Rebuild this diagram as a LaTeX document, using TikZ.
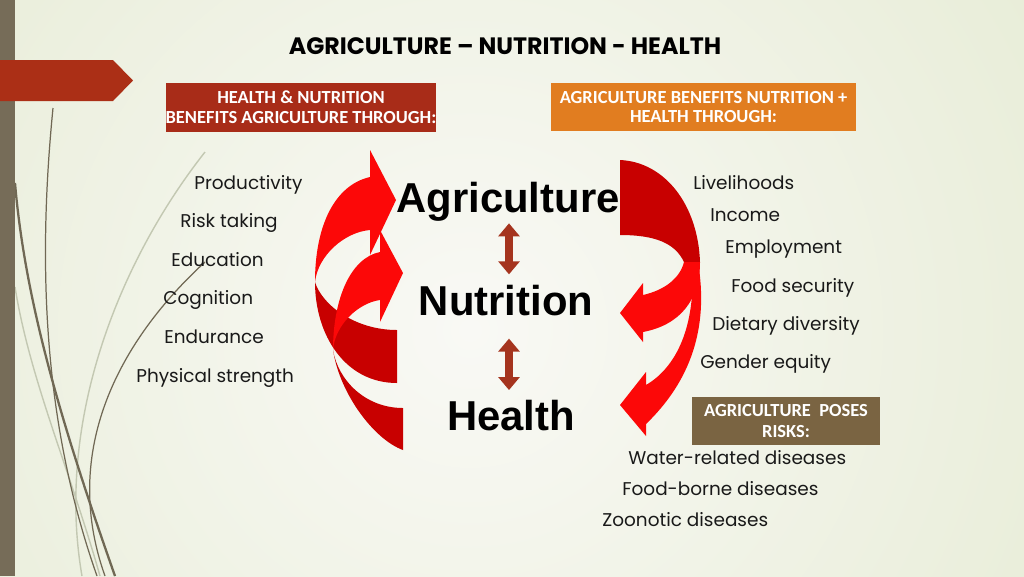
\documentclass[tikz,border=0pt]{standalone}
\usepackage{fontspec}
\setmainfont{Poppins}
\newfontfamily\boxfont{Carlito}
\newfontfamily\bigfont{Liberation Sans}
\usepackage{tikz}
\usetikzlibrary{arrows.meta}
\definecolor{bgin}{RGB}{249,249,245}
\definecolor{bgout}{RGB}{221,229,197}
\definecolor{barbrown}{RGB}{118,108,88}
\definecolor{tabred}{RGB}{171,47,22}
\definecolor{hnred}{RGB}{168,44,24}
\definecolor{agorange}{RGB}{225,125,32}
\definecolor{riskbrown}{RGB}{122,100,66}
\definecolor{arrowdark}{RGB}{200,0,0}
\definecolor{arrowlight}{RGB}{252,8,8}
\definecolor{linkred}{RGB}{165,52,30}
\definecolor{swirldark}{RGB}{112,104,84}
\definecolor{swirllight}{RGB}{195,200,178}
\definecolor{txtgray}{RGB}{25,25,25}

\begin{document}
\begin{tikzpicture}[x=0.02cm, y=-0.02cm,
  listtext/.style={anchor=base west, inner sep=0, text=txtgray, font=\fontsize{10.5pt}{12pt}\selectfont},
  bigword/.style={anchor=base, inner sep=0, text=black, font=\bigfont\bfseries\fontsize{23.8pt}{26pt}\selectfont},
  headbox/.style={inner sep=0, align=center, text=white, font=\boxfont\bfseries\fontsize{10.5pt}{11.3pt}\selectfont},
  linkarrow/.style={draw=linkred, line width=4.5pt, {Triangle[width=11.9pt,length=7.4pt]}-{Triangle[width=11.9pt,length=7.4pt]}}]
\useasboundingbox (0,0) rectangle (1024,576);
\clip (0,0) rectangle (1024,576);
\shade[inner color=bgin, outer color=bgout] (470,330) circle (1100);
\draw[swirllight, line width=0.8pt] (15,287) .. controls (30,380) and (70,470) .. (100,576);
\draw[swirllight, line width=0.8pt] (205,152) .. controls (120,260) and (55,420) .. (82,576);
\draw[swirldark, line width=0.7pt] (53,108) .. controls (38,260) and (42,420) .. (97,576);
\draw[swirldark, line width=1.3pt] (15,183) .. controls (25,300) and (60,420) .. (115,576);
\draw[swirldark, line width=0.7pt] (205,262) .. controls (120,340) and (60,450) .. (105,576);
\fill[barbrown] (0,0) rectangle (15,576);
\fill[tabred] (0,60) -- (113,60) -- (133,80.5) -- (113,101) -- (0,101) -- cycle;

\node[anchor=base, inner sep=0, text=black, font=\bfseries\fontsize{13.5pt}{15pt}\selectfont] (title) at (505,54) {AGRICULTURE – NUTRITION - HEALTH};

\node[headbox, fill=hnred, minimum width=151.9pt, minimum height=27.8pt] (hnbox) at (301,107.5) {HEALTH \& NUTRITION\\BENEFITS AGRICULTURE THROUGH:};
\node[headbox, fill=agorange, minimum width=174pt, minimum height=27.2pt] (agbox) at (703.5,107) {AGRICULTURE BENEFITS NUTRITION +\\HEALTH THROUGH:};
\node[headbox, fill=riskbrown, minimum width=106.6pt, minimum height=27.2pt] (riskbox) at (786,421) {AGRICULTURE\ \ POSES\\[0.6pt]RISKS:};

\foreach \t/\x/\y [count=\i] in {Productivity/194/189, Risk taking/180/227, Education/171/266, Cognition/163/304, Endurance/164/343, Physical strength/136/382}
  \node[listtext] (hn\i) at (\x,\y) {\t};
\foreach \t/\x/\y [count=\i] in {Livelihoods/693/189, Income/710/221, Employment/725/253, Food security/731/292, Dietary diversity/712/330, Gender equity/700/368}
  \node[listtext] (ag\i) at (\x,\y) {\t};
\foreach \t/\x/\y [count=\i] in {Water-related diseases/628/464, Food-borne diseases/622/495, Zoonotic diseases/602/526}
  \node[listtext] (risk\i) at (\x,\y) {\t};

\fill[arrowdark] (315,282) .. controls (322,305) and (355,330) .. (397,330) -- (397,383) .. controls (345,383) and (315,335) .. (315,282) -- cycle;
\fill[arrowlight] (315,282) .. controls (315,225) and (335,185) .. (370,177) -- (370,150) -- (396,200) -- (370,255) -- (370,230) .. controls (345,232) and (318,255) .. (315,282) -- cycle;
\fill[arrowdark] (333,350) .. controls (338,380) and (365,408) .. (403,408) -- (403,450) .. controls (375,440) and (340,395) .. (333,350) -- cycle;
\fill[arrowlight] (333,350) .. controls (333,300) and (350,258) .. (380,252) -- (380,230) -- (403,273) -- (380,322) -- (380,300) .. controls (358,303) and (335,325) .. (333,350) -- cycle;

\fill[arrowlight] (692,262) .. controls (696,320) and (680,365) .. (646,385) -- (646,372) -- (620,405) -- (646,436) -- (646,424) .. controls (702,370) and (706,310) .. (698,262) -- cycle;
\fill[arrowdark] (620,160) .. controls (665,162) and (698,205) .. (700,262) -- (684,262) .. controls (675,243) and (655,235) .. (620,235) -- cycle;
\fill[arrowlight] (684,262) -- (700,262) .. controls (700,300) and (680,325) .. (643,332) -- (643,342) -- (620,313) -- (643,283) -- (643,295) .. controls (665,290) and (680,278) .. (684,262) -- cycle;

\node[bigword] (agri) at (508,212) {Agriculture};
\node[bigword] (nutr) at (506,315) {Nutrition};
\node[bigword] (health) at (511,430) {Health};
\draw[linkarrow, shorten <=1.2pt, shorten >=5.7pt] (509,0 |- agri.south) -- (509,0 |- nutr.north);
\draw[linkarrow, shorten <=13pt, shorten >=5.3pt] (509,0 |- nutr.south) -- (509,0 |- health.north);
\end{tikzpicture}
\end{document}
